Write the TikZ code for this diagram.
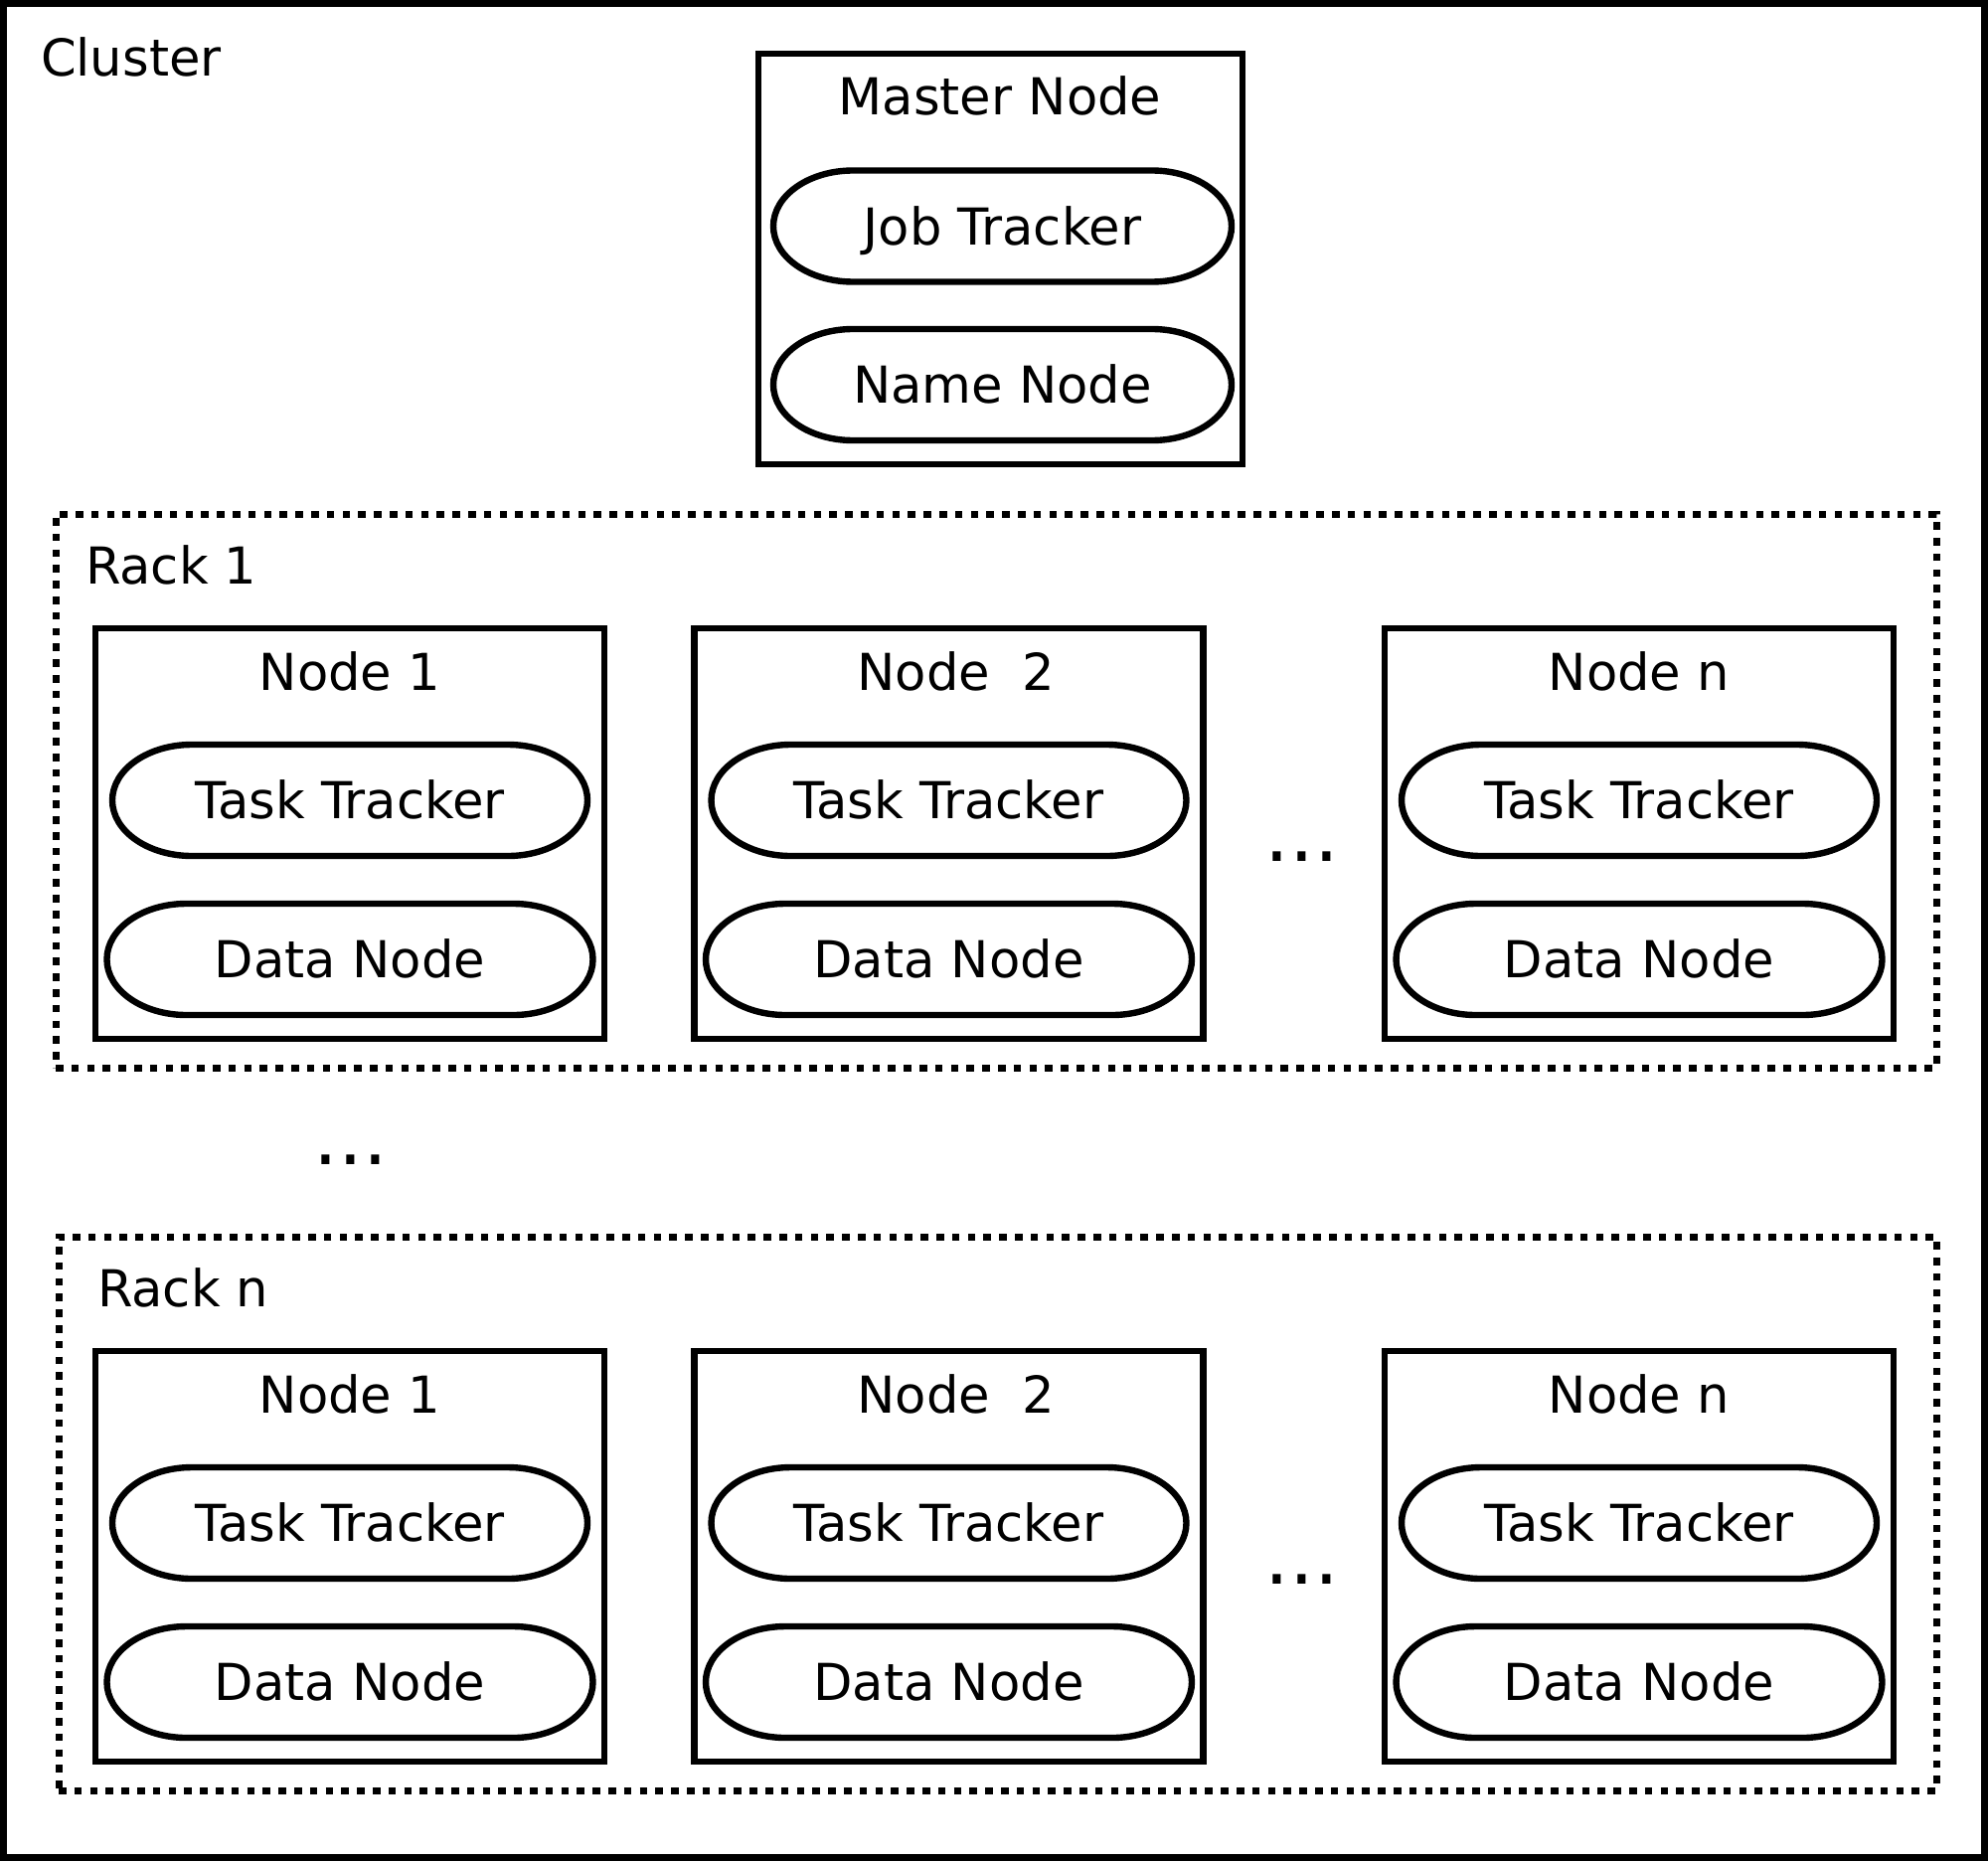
\documentclass[tikz,border=0pt]{standalone}
\usepackage{fontspec}
\setmainfont{DejaVu Sans}
\begin{document}
\begin{tikzpicture}[x=0.5pt,y=-0.5pt,
  lbl/.style={font=\fontsize{25.6}{30}\selectfont, inner sep=0pt, outer sep=0pt, text height=18.66pt, text depth=0pt},
  frame/.style={draw, line width=3.5pt, inner sep=0pt, outer sep=0pt},
  box/.style={draw, line width=3.4pt, inner sep=0pt, outer sep=0pt},
  rack/.style={draw, line width=3.5pt, dash pattern=on 3.8pt off 4.1pt, inner sep=0pt, outer sep=0pt},
  pill/.style={lbl, minimum height=56pt},
  pillline/.style={line width=3.2pt},
  dotsl/.style={font=\fontsize{39}{44}\selectfont, inner sep=0pt, anchor=base},
]
\useasboundingbox (0,0) rectangle (2000,1872);
% cluster frame
\node[frame, minimum width=996.5pt, minimum height=932.5pt] (cluster) at (1000,936) {};
\node[lbl, anchor=west] (clusterlbl) at (41,58.3) {Cluster};
% master node
\node[box, minimum width=243.5pt, minimum height=206.5pt] (master) at (1006.5,260.5) {};
\node[lbl] (masterlbl) at (1006,97.3) {Master Node};
\node[pill, minimum width=230.5pt] (jt) at (1008.5,227.5) {Job Tracker};
\node[pill, minimum width=230.5pt] (nn) at (1008.5,387) {Name Node};
% racks
\node[rack, minimum width=946pt, minimum height=278.5pt] (rack1) at (1002,795.5) {};
\node[lbl, anchor=west] (rack1lbl) at (86,569.3) {Rack 1};
\node[rack, minimum width=944.5pt, minimum height=278.5pt] (rackn) at (1003.5,1522.5) {};
\node[lbl, anchor=west] (racknlbl) at (98,1296.3) {Rack n};
% nodes in racks
\foreach \r/\ry in {1/0, n/727} {
  \foreach \k/\kx/\tx/\kt in {1/352/352/{Node 1}, 2/954.5/962/{Node\ \ 2}, n/1649/1649/{Node n}} {
    \node[box, minimum width=256pt, minimum height=206.5pt] (b\r\k) at (\kx,{838.5+\ry}) {};
    \node[lbl] (t\r\k) at (\tx,{676.3+\ry}) {\kt};
    \node[pill, minimum width=239pt] (tt\r\k) at (\kx,{805+\ry}) {Task Tracker};
    \node[pill, minimum width=244.5pt] (dn\r\k) at (\kx,{965+\ry}) {Data Node};
  }
  \node[dotsl] (dots\r) at (1310,{866+\ry}) {...};
}
\node[dotsl] (dotsmid) at (353,1171) {...};
% pill outlines
\foreach \p in {jt,nn,tt11,dn11,tt12,dn12,tt1n,dn1n,ttn1,dnn1,ttn2,dnn2,ttnn,dnnn} {
  \draw[pillline] ([xshift=40pt]\p.north west) -- ([xshift=-40pt]\p.north east)
    arc[start angle=90,end angle=-90,x radius=40pt,y radius=28pt]
    -- ([xshift=40pt]\p.south west)
    arc[start angle=270,end angle=90,x radius=40pt,y radius=28pt] -- cycle;
}
\end{tikzpicture}
\end{document}
